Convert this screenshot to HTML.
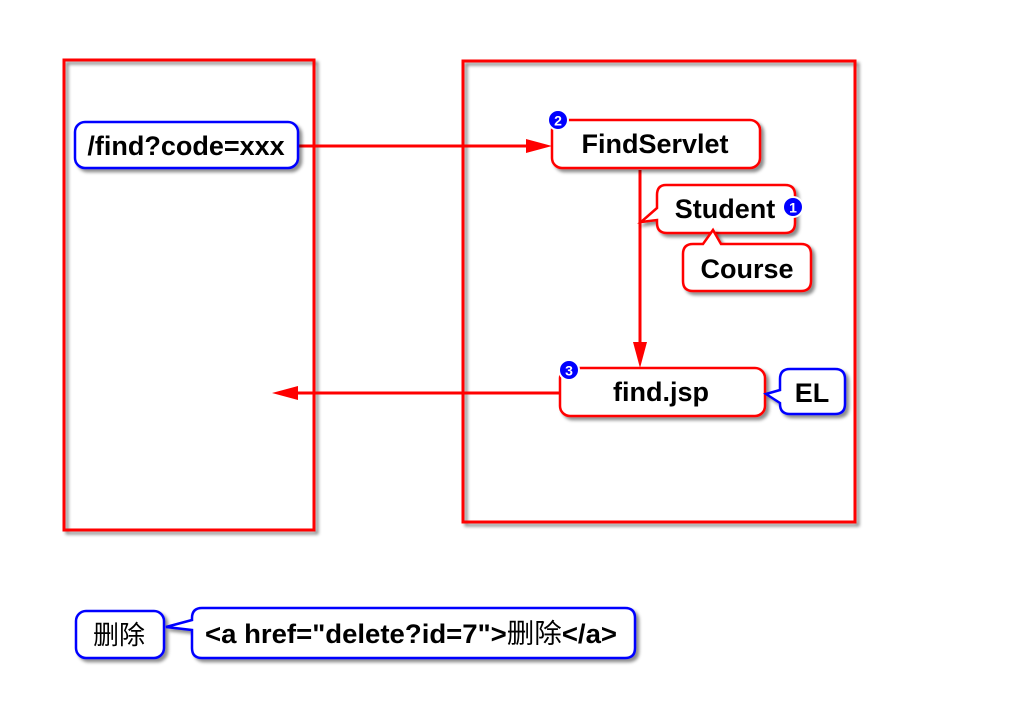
<!DOCTYPE html>
<html><head><meta charset="utf-8"><style>
html,body{margin:0;padding:0;background:#fff;}
svg{display:block;}
text{font-family:"Liberation Sans","Noto Sans CJK SC",sans-serif;font-weight:bold;font-size:27px;fill:#000;}
</style></head><body>
<svg width="1024" height="722" viewBox="0 0 1024 722" xmlns="http://www.w3.org/2000/svg">
<defs>
<filter id="sh" x="-10%" y="-10%" width="130%" height="140%"><feDropShadow dx="3" dy="3" stdDeviation="1.5" flood-color="#000" flood-opacity="0.45"/></filter>
</defs>
<rect x="64" y="60" width="250" height="470" fill="none" stroke="#f00" stroke-width="3" filter="url(#sh)"/>
<rect x="463" y="61" width="392" height="461" fill="none" stroke="#f00" stroke-width="3" filter="url(#sh)"/>

<line x1="298" y1="146" x2="540" y2="146" stroke="#f00" stroke-width="3"/>
<polygon points="552,146 526,139 526,153" fill="#f00"/>
<line x1="640" y1="170" x2="640" y2="356" stroke="#f00" stroke-width="3"/>
<polygon points="640,368 633,342 647,342" fill="#f00"/>
<line x1="560" y1="393" x2="284" y2="393" stroke="#f00" stroke-width="3"/>
<polygon points="272,393 298,386 298,400" fill="#f00"/>

<rect x="75" y="122" width="223" height="46" rx="10" fill="#fff" stroke="#00f" stroke-width="2.5" filter="url(#sh)"/>
<text x="186" y="155" text-anchor="middle">/find?code=xxx</text>

<rect x="552" y="120" width="208" height="48" rx="10" fill="#fff" stroke="#f00" stroke-width="2.5" filter="url(#sh)"/>
<text x="655" y="153" text-anchor="middle">FindServlet</text>
<circle cx="558" cy="120" r="10" fill="#00f" stroke="#fff" stroke-width="2"/>
<text x="558" y="125.5" text-anchor="middle" style="font-size:14px;fill:#fff">2</text>

<path d="M666,185 H785 Q795,185 795,195 V223 Q795,233 785,233 H667 Q657,233 657,223 V220 L641,222 L657,208 V195 Q657,185 666,185 Z" fill="#fff" stroke="#f00" stroke-width="2.5" filter="url(#sh)"/>
<text x="725" y="218" text-anchor="middle">Student</text>
<circle cx="793" cy="207" r="10" fill="#00f" stroke="#fff" stroke-width="2"/>
<text x="793" y="212.5" text-anchor="middle" style="font-size:14px;fill:#fff">1</text>

<path d="M693,244 H703 L713,230 L721,244 H801 Q811,244 811,254 V281 Q811,291 801,291 H693 Q683,291 683,281 V254 Q683,244 693,244 Z" fill="#fff" stroke="#f00" stroke-width="2.5" filter="url(#sh)"/>
<text x="747" y="278" text-anchor="middle">Course</text>

<rect x="560" y="368" width="205" height="48" rx="10" fill="#fff" stroke="#f00" stroke-width="2.5" filter="url(#sh)"/>
<text x="661" y="401" text-anchor="middle">find.jsp</text>
<circle cx="569" cy="370" r="10" fill="#00f" stroke="#fff" stroke-width="2"/>
<text x="569" y="375.5" text-anchor="middle" style="font-size:14px;fill:#fff">3</text>

<path d="M790,369 H835 Q845,369 845,379 V404 Q845,414 835,414 H790 Q780,414 780,404 V403 L766,394 L780,390 V379 Q780,369 790,369 Z" fill="#fff" stroke="#00f" stroke-width="2.5" filter="url(#sh)"/>
<text x="812" y="402" text-anchor="middle">EL</text>

<rect x="76" y="611" width="88" height="47" rx="10" fill="#fff" stroke="#00f" stroke-width="2.5" filter="url(#sh)"/>
<text x="119" y="644" text-anchor="middle" style="font-weight:normal;font-size:26px">删除</text>
<path d="M202,608 H625 Q635,608 635,618 V648 Q635,658 625,658 H202 Q192,658 192,648 V630 L166,627 L192,620 V618 Q192,608 202,608 Z" fill="#fff" stroke="#00f" stroke-width="2.5" filter="url(#sh)"/>
<text x="205" y="643" textLength="412" lengthAdjust="spacingAndGlyphs">&lt;a href="delete?id=7"&gt;<tspan style="font-weight:normal">删除</tspan>&lt;/a&gt;</text>
</svg>
</body></html>
